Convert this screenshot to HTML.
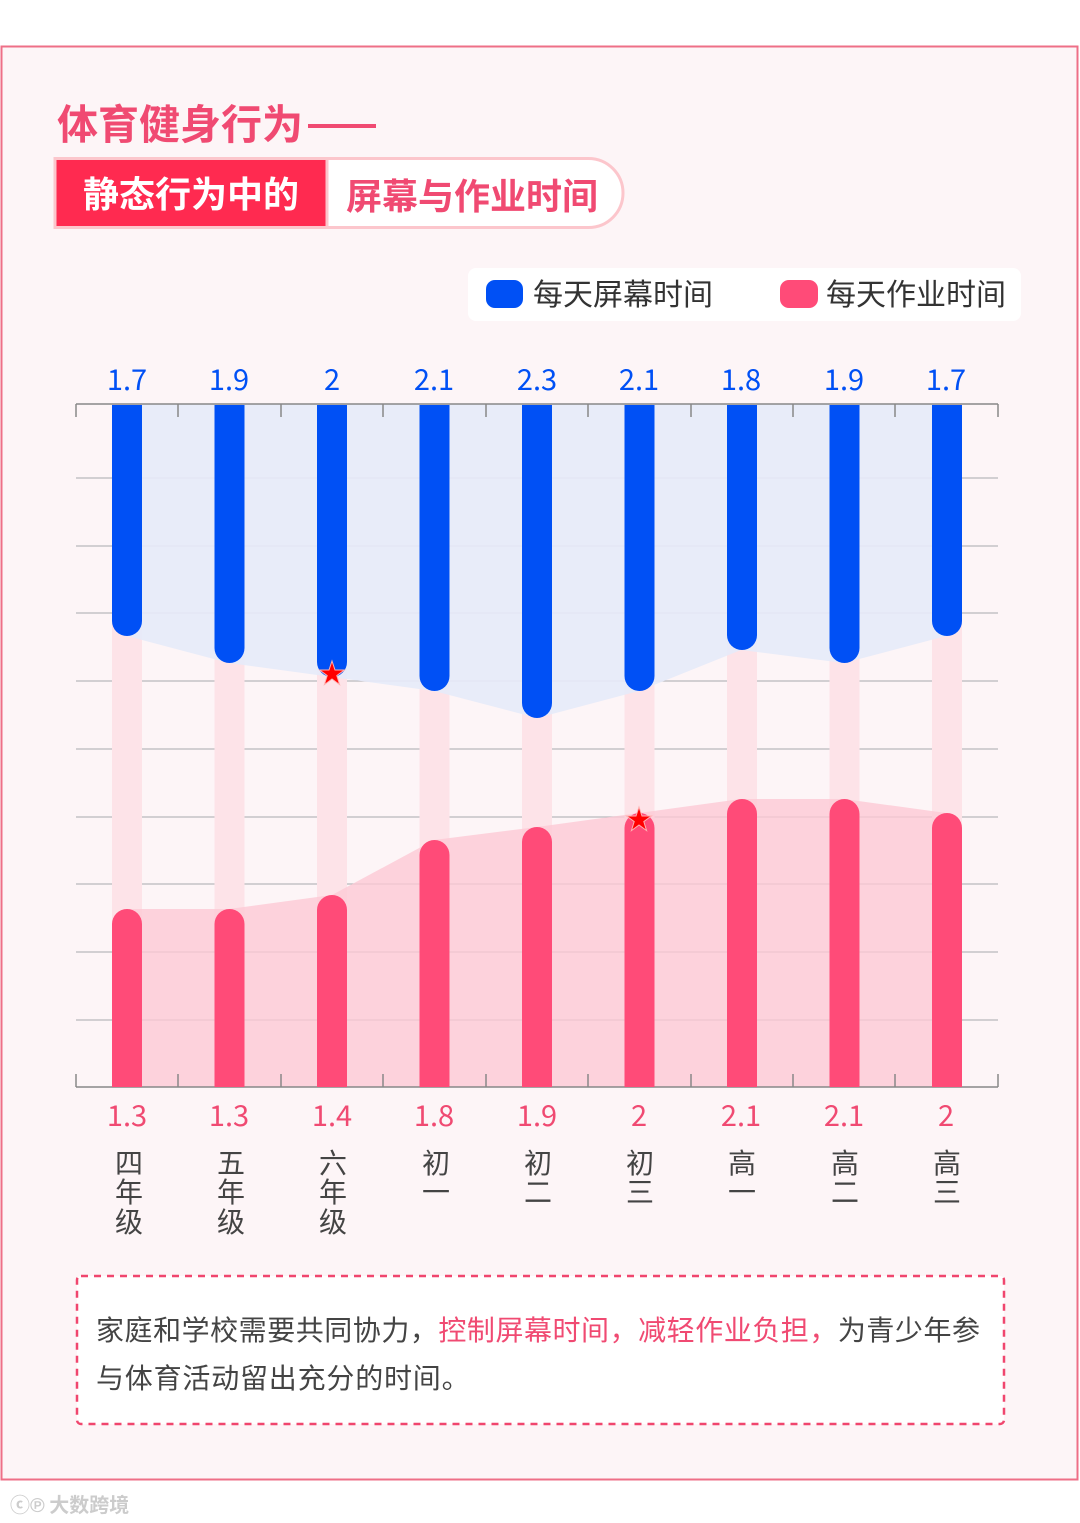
<!DOCTYPE html>
<html><head><meta charset="utf-8"><style>
html,body{margin:0;padding:0;background:#fff;}
svg{display:block;}
text{font-family:"Noto Sans CJK SC","Liberation Sans",sans-serif;}
</style></head><body>
<svg width="1080" height="1523" viewBox="0 0 1080 1523" xmlns="http://www.w3.org/2000/svg">
<rect x="0" y="0" width="1080" height="1523" fill="#fff"/>
<rect x="1.5" y="46.5" width="1076" height="1433" fill="#fdf5f7" stroke="#ee6f87" stroke-width="2"/>
<!-- title -->
<text x="57" y="139" font-size="41" font-weight="bold" fill="#f04a72">体育健身行为</text>
<rect x="308" y="124" width="68" height="4" fill="#f04a72"/>
<rect x="290" y="158.5" width="333" height="69" rx="34.5" fill="#fff" stroke="#fcc6cc" stroke-width="3"/>
<rect x="55" y="158.5" width="272" height="69" fill="#ff2a50" stroke="#fcc6cc" stroke-width="3"/>
<text x="83" y="207" font-size="36" font-weight="bold" fill="#fff">静态行为中的</text>
<text x="346" y="209" font-size="36" font-weight="bold" fill="#f04a72">屏幕与作业时间</text>
<!-- legend -->
<rect x="468" y="268" width="553" height="53" rx="8" fill="#fff"/>
<rect x="486" y="280" width="37" height="28" rx="9" fill="#0050f5"/>
<text x="533" y="305" font-size="30" fill="#333">每天屏幕时间</text>
<rect x="780" y="280" width="38" height="28" rx="9" fill="#ff4b78"/>
<text x="826" y="305" font-size="30" fill="#333">每天作业时间</text>
<!-- grid -->
<g stroke="#b9b9bd" stroke-width="1.3">
<line x1="76" y1="478" x2="998" y2="478"/><line x1="76" y1="546" x2="998" y2="546"/>
<line x1="76" y1="613" x2="998" y2="613"/><line x1="76" y1="681" x2="998" y2="681"/>
<line x1="76" y1="749" x2="998" y2="749"/><line x1="76" y1="817" x2="998" y2="817"/>
<line x1="76" y1="884" x2="998" y2="884"/><line x1="76" y1="952" x2="998" y2="952"/>
<line x1="76" y1="1020" x2="998" y2="1020"/>
</g>
<!-- light columns -->
<g fill="#fde3e8">
<rect x="112" y="404" width="30" height="683"/><rect x="214.5" y="404" width="30" height="683"/>
<rect x="317" y="404" width="30" height="683"/><rect x="419.5" y="404" width="30" height="683"/>
<rect x="522" y="404" width="30" height="683"/><rect x="624.5" y="404" width="30" height="683"/>
<rect x="727" y="404" width="30" height="683"/><rect x="829.5" y="404" width="30" height="683"/>
<rect x="932" y="404" width="30" height="683"/>
</g>
<!-- areas -->
<polygon fill="#e6eaf8" fill-opacity="0.92" points="127,404 946,404 946,636 844,663 741,650 639,691 537,718 434,691 332,677 229,663 127,636"/>
<polygon fill="#fcc9d4" fill-opacity="0.8" points="127,909 229,909 332,895 434,840 537,827 639,813 741,799 844,799 946,813 946,1087 127,1087"/>
<!-- axes -->
<g stroke="#888" stroke-width="1.5" fill="none">
<line x1="76" y1="404" x2="998" y2="404"/><line x1="76" y1="1087" x2="998" y2="1087"/>
<line x1="76" y1="404" x2="76" y2="417"/><line x1="178" y1="404" x2="178" y2="417"/><line x1="281" y1="404" x2="281" y2="417"/><line x1="383" y1="404" x2="383" y2="417"/><line x1="486" y1="404" x2="486" y2="417"/><line x1="588" y1="404" x2="588" y2="417"/><line x1="691" y1="404" x2="691" y2="417"/><line x1="793" y1="404" x2="793" y2="417"/><line x1="895" y1="404" x2="895" y2="417"/><line x1="998" y1="404" x2="998" y2="417"/>
<line x1="76" y1="1087" x2="76" y2="1074"/><line x1="178" y1="1087" x2="178" y2="1074"/><line x1="281" y1="1087" x2="281" y2="1074"/><line x1="383" y1="1087" x2="383" y2="1074"/><line x1="486" y1="1087" x2="486" y2="1074"/><line x1="588" y1="1087" x2="588" y2="1074"/><line x1="691" y1="1087" x2="691" y2="1074"/><line x1="793" y1="1087" x2="793" y2="1074"/><line x1="895" y1="1087" x2="895" y2="1074"/><line x1="998" y1="1087" x2="998" y2="1074"/>
</g>
<!-- blue bars -->
<g fill="#0050f5">
<path d="M112,405 h30 v216 a15,15 0 0 1 -30,0z"/>
<path d="M214.5,405 h30 v243 a15,15 0 0 1 -30,0z"/>
<path d="M317,405 h30 v257 a15,15 0 0 1 -30,0z"/>
<path d="M419.5,405 h30 v271 a15,15 0 0 1 -30,0z"/>
<path d="M522,405 h30 v298 a15,15 0 0 1 -30,0z"/>
<path d="M624.5,405 h30 v271 a15,15 0 0 1 -30,0z"/>
<path d="M727,405 h30 v230 a15,15 0 0 1 -30,0z"/>
<path d="M829.5,405 h30 v243 a15,15 0 0 1 -30,0z"/>
<path d="M932,405 h30 v216 a15,15 0 0 1 -30,0z"/>
</g>
<!-- pink bars -->
<g fill="#ff4b78">
<path d="M112,1087 v-163 a15,15 0 0 1 30,0 v163z"/>
<path d="M214.5,1087 v-163 a15,15 0 0 1 30,0 v163z"/>
<path d="M317,1087 v-177 a15,15 0 0 1 30,0 v177z"/>
<path d="M419.5,1087 v-232 a15,15 0 0 1 30,0 v232z"/>
<path d="M522,1087 v-245 a15,15 0 0 1 30,0 v245z"/>
<path d="M624.5,1087 v-259 a15,15 0 0 1 30,0 v259z"/>
<path d="M727,1087 v-273 a15,15 0 0 1 30,0 v273z"/>
<path d="M829.5,1087 v-273 a15,15 0 0 1 30,0 v273z"/>
<path d="M932,1087 v-259 a15,15 0 0 1 30,0 v259z"/>
</g>
<!-- stars -->
<g fill="#ff0000" stroke="#ffb0b0" stroke-width="1">
<polygon transform="translate(332,674)" points="0,-13 3,-4 12.4,-4 4.8,1.6 7.6,10.6 0,5 -7.6,10.6 -4.8,1.6 -12.4,-4 -3,-4"/>
<polygon transform="translate(639,820)" points="0,-13 3,-4 12.4,-4 4.8,1.6 7.6,10.6 0,5 -7.6,10.6 -4.8,1.6 -12.4,-4 -3,-4"/>
</g>
<!-- top values -->
<g font-size="29" fill="#0050f5" text-anchor="middle">
<text x="127" y="390">1.7</text><text x="229" y="390">1.9</text><text x="332" y="390">2</text><text x="434" y="390">2.1</text><text x="537" y="390">2.3</text><text x="639" y="390">2.1</text><text x="741" y="390">1.8</text><text x="844" y="390">1.9</text><text x="946" y="390">1.7</text>
</g>
<g font-size="29" fill="#f04a72" text-anchor="middle">
<text x="127" y="1126">1.3</text><text x="229" y="1126">1.3</text><text x="332" y="1126">1.4</text><text x="434" y="1126">1.8</text><text x="537" y="1126">1.9</text><text x="639" y="1126">2</text><text x="741" y="1126">2.1</text><text x="844" y="1126">2.1</text><text x="946" y="1126">2</text>
</g>
<g font-size="28" fill="#444" text-anchor="middle">
<text x="129" y="1173">四</text><text x="129" y="1202">年</text><text x="129" y="1232">级</text>
<text x="231" y="1173">五</text><text x="231" y="1202">年</text><text x="231" y="1232">级</text>
<text x="333" y="1173">六</text><text x="333" y="1202">年</text><text x="333" y="1232">级</text>
<text x="436" y="1173">初</text><text x="436" y="1202">一</text>
<text x="538" y="1173">初</text><text x="538" y="1202">二</text>
<text x="640" y="1173">初</text><text x="640" y="1202">三</text>
<text x="742" y="1173">高</text><text x="742" y="1202">一</text>
<text x="845" y="1173">高</text><text x="845" y="1202">二</text>
<text x="947" y="1173">高</text><text x="947" y="1202">三</text>
</g>
<!-- note box -->
<rect x="77" y="1276" width="927" height="148" rx="4" fill="#fff" stroke="#f0466e" stroke-width="2.5" stroke-dasharray="7,6"/>
<text x="96" y="1340" font-size="28" fill="#444" textLength="884" lengthAdjust="spacing">家庭和学校需要共同协力，<tspan fill="#f04a72">控制屏幕时间，减轻作业负担，</tspan>为青少年参</text>
<text x="96" y="1388" font-size="28" fill="#444" letter-spacing="0.8">与体育活动留出充分的时间。</text>
<text x="10" y="1512" font-size="20" font-weight="bold" fill="#ccc">ⓒ℗ 大数跨境</text>
</svg>
</body></html>
